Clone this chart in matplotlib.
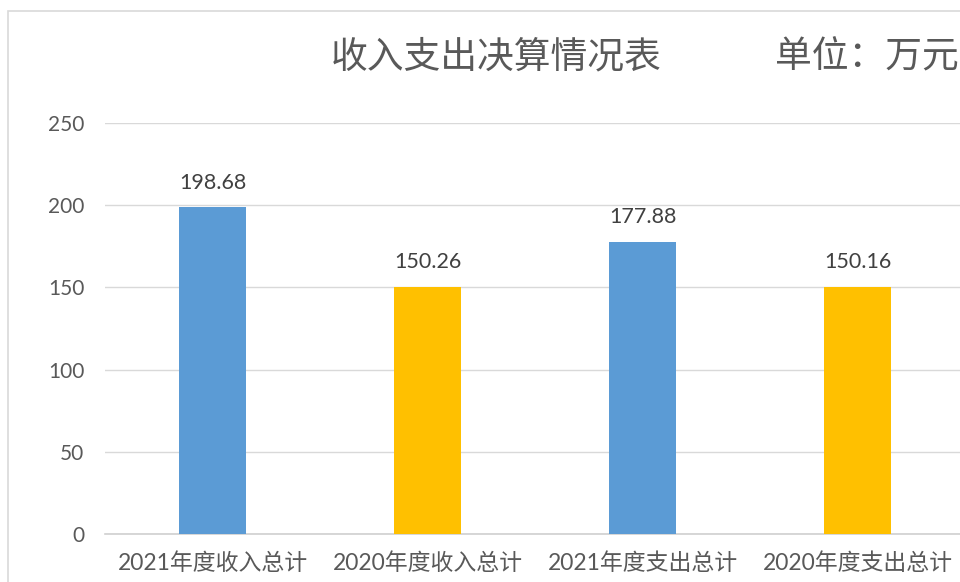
import matplotlib.pyplot as plt
from matplotlib.patches import Rectangle

categories = ["2021年度收入总计", "2020年度收入总计", "2021年度支出总计", "2020年度支出总计"]
values = [198.68, 150.26, 177.88, 150.16]
labels = ["198.68", "150.26", "177.88", "150.16"]
colors = ["#5B9BD5", "#FFC000", "#5B9BD5", "#FFC000"]
yticks = [0, 50, 100, 150, 200, 250]

fam = ["Lato", "Noto Sans CJK SC", "DejaVu Sans"]
plt.rcParams["font.family"] = fam
txt = "#595959"

fig = plt.figure(figsize=(9.6, 5.82), dpi=100)
ax = fig.add_axes([105 / 960, (582 - 534) / 582, 860 / 960, (534 - 123) / 582])

x = range(len(categories))
ax.bar(x, values, width=0.31, color=colors, zorder=3)
for i, v in enumerate(values):
    ax.text(i, v + 9, labels[i], ha="center", va="bottom", fontsize=15.5, color="#404040")

ax.set_xlim(-0.5, 3.5)
ax.set_ylim(0, 250)
ax.set_yticks(yticks)
ax.set_yticklabels([str(t) for t in yticks], fontsize=15, color=txt)
ax.set_xticks(list(x))
ax.set_xticklabels(categories, fontsize=16.5, color=txt)
ax.tick_params(length=0, pad=13)
ax.tick_params(axis="y", pad=15)
ax.grid(axis="y", color="#d9d9d9", linewidth=1, zorder=0)
for s in ["top", "right", "left"]:
    ax.spines[s].set_visible(False)
ax.spines["bottom"].set_color("#d0d0d0")
ax.spines["bottom"].set_linewidth(1.2)

# chart frame
fig.patches.append(Rectangle((8 / 960, -0.1), 1.1, (582 - 11) / 582 + 0.1,
                             transform=fig.transFigure, fill=False,
                             edgecolor="#d9d9d9", linewidth=1.2))

fig.text(496 / 960, 1 - 57 / 582, "收入支出决算情况表", ha="center", va="center",
         fontsize=26.5, color=txt, family=["Noto Sans CJK SC", "DejaVu Sans"])
fig.text(775 / 960, 1 - 57 / 582, "单位：万元", ha="left", va="center",
         fontsize=26.5, color=txt, family=["Noto Sans CJK SC", "DejaVu Sans"])

fig.savefig("out.png", dpi=100)
